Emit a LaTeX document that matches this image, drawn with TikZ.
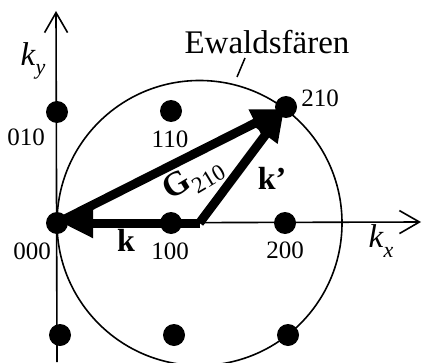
\documentclass[tikz,border=0pt]{standalone}
\usepackage{fontspec}
\setmainfont{Liberation Serif}
\usetikzlibrary{arrows.meta}
\newcommand{\fs}[1]{\fontsize{#1}{#1}\selectfont}
\newcommand{\lowsub}[2]{\raisebox{-0.28em}{\fs{#1}#2}}
\begin{document}
\begin{tikzpicture}[x=1pt,y=1pt,
  dot/.style={circle,fill=black,inner sep=0pt,minimum size=22pt},
  idx/.style={font=\fs{25}},
  axis/.style={line width=1.6pt,-{Straight Barb[length=20pt,width=23pt,line width=1.6pt]}},
  vec/.style={line width=9pt,-{Triangle[length=31pt,width=28pt]}},
  lbl/.style={inner sep=0pt}]
\useasboundingbox (0,0) rectangle (422,362);
% reciprocal lattice points
\node[dot] (p000) at (57,139) {};
\node[dot] (p100) at (171,139) {};
\node[dot] (p200) at (285,139) {};
\node[dot] (p010) at (57,250) {};
\node[dot] (p110) at (171,251) {};
\node[dot] (p210) at (286,255) {};
\node[dot] (p0m1) at (60,27) {};
\node[dot] (p1m1) at (174,27) {};
\node[dot] (p2m1) at (288,27) {};
\coordinate (C) at (199.5,139);
\coordinate (ybot) at (57,0);
\coordinate (ytop) at (56,351);
\coordinate (xend) at (421,140);
% Ewald sphere
\draw[line width=1.6pt] (C) circle (142.5);
% axes
\draw[axis] (ybot) -- (ytop);
\draw[axis] (p000.center) -- (xend);
% vectors
\draw[vec] (C) -- ([xshift=5pt]p000.center);
\draw[vec] (p000.center) -- ([shift={(-3pt,-2pt)}]p210.center);
\draw[vec] (C) -- ([shift={(-2pt,-3pt)}]p210.center);
% labels
\node[lbl,font=\fs{33}] (ew) at (267,320) {Ewaldsfären};
\coordinate (lead1) at (237,285);
\coordinate (lead2) at (245,304);
\draw[line width=1.5pt] (lead1) -- (lead2);
\node[lbl] (ky) at (33,301) {\fs{33}\textit{k}\lowsub{22}{\textit{y}}};
\node[lbl] (kx) at (381,121) {\fs{33}\textit{k}\lowsub{22}{\textit{x}}};
\node[idx,lbl] (l010) at (26,225) {010};
\node[idx,lbl] (l110) at (170,223) {110};
\node[idx,lbl] (l210) at (320,264) {210};
\node[idx,lbl] (l000) at (32,111) {000};
\node[idx,lbl] (l100) at (170,111) {100};
\node[idx,lbl] (l200) at (285,112) {200};
\node[lbl,font=\fs{32}\bfseries] (lk) at (126,122) {k};
\node[lbl,font=\fs{32}\bfseries] (lkp) at (272,184) {k’};
\node[lbl,rotate=31] (lG) at (193,183) {\fs{34}\textbf{G}\lowsub{23}{210}};
\end{tikzpicture}
\end{document}
